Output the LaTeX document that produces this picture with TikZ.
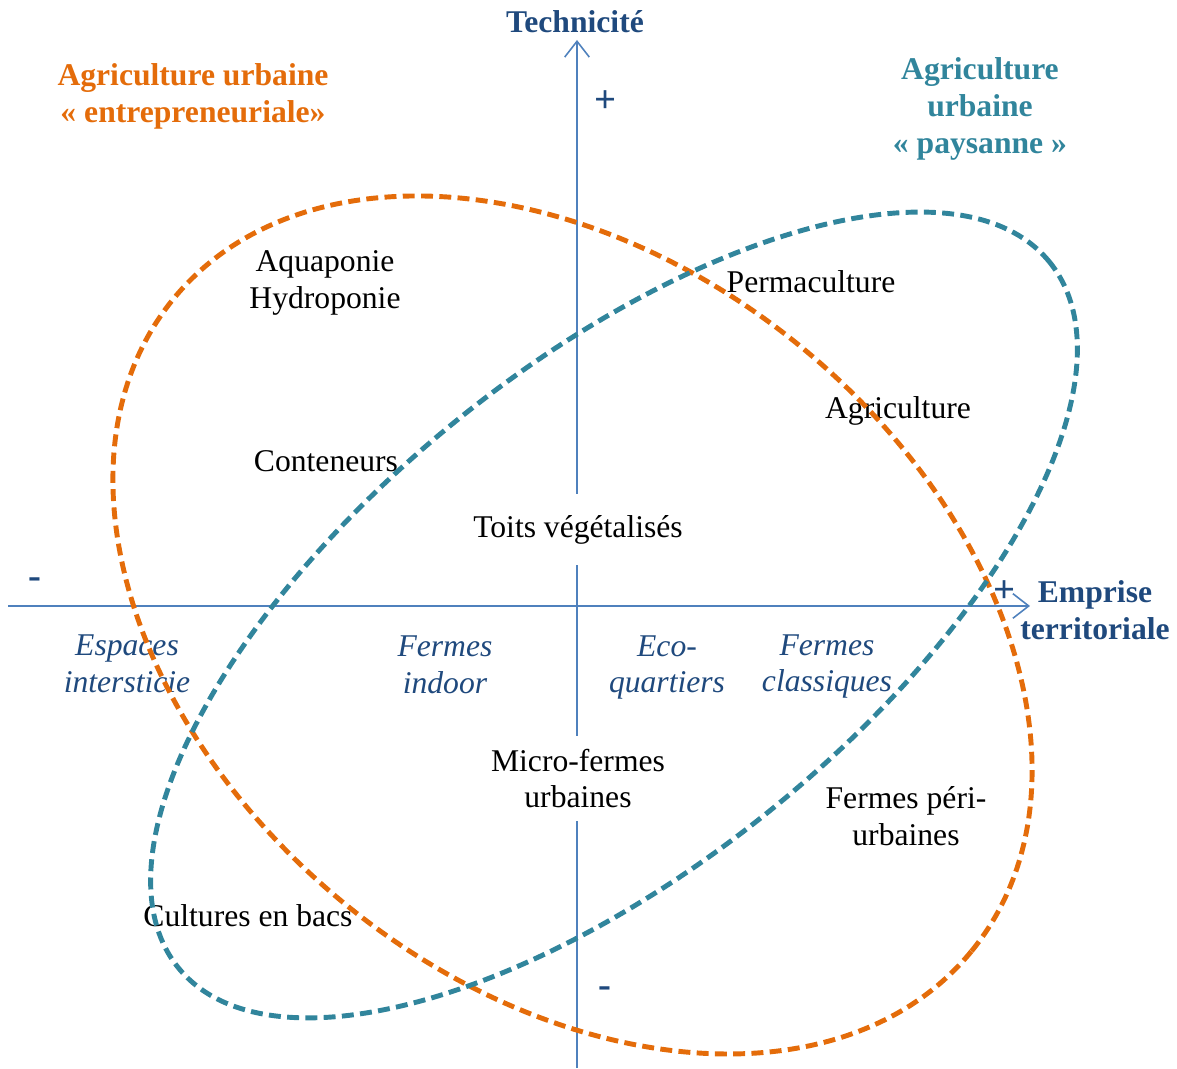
\documentclass[tikz,border=0pt]{standalone}
\usepackage{fontspec}
\setmainfont{Liberation Serif}
\usetikzlibrary{arrows.meta}
\definecolor{orangeAU}{HTML}{E46C0A}
\definecolor{tealAU}{HTML}{31859C}
\definecolor{navyAU}{HTML}{1F497D}
\definecolor{axisAU}{HTML}{4F81BD}
\begin{document}
\begin{tikzpicture}[font=\fontsize{9}{10.5}\selectfont,
    axe/.style={draw=axisAU, line width=0.45pt, -{Straight Barb[length=4.5pt,width=7pt]}},
    lbl/.style={align=center, inner sep=1pt},
    cat/.style={lbl, text=navyAU, font=\fontsize{9}{10.5}\selectfont\itshape},
    titre/.style={lbl, font=\fontsize{9}{10.5}\selectfont\bfseries},
    signe/.style={lbl, text=navyAU, font=\fontsize{11}{12}\selectfont\bfseries},
    ovale/.style={line width=1.4pt, dash pattern=on 3.4pt off 1.8pt}]
      \useasboundingbox (0,0) rectangle (11.77,10.69);

      % axes
      \coordinate (xmin) at (0.08,4.63);
      \coordinate (xmax) at (10.30,4.63);
      \coordinate (ymin) at (5.77,0.01);
      \coordinate (ymax) at (5.77,10.29);
      \draw[axe] (xmin) -- (xmax);
      \draw[axe] (ymin) -- (ymax);

      \node[titre, text=navyAU] (tech) at (5.75,10.47) {Technicité};
      \node[signe] (techplus) at (6.06,9.67) {+};
      \node[signe] (techmoins) at (6.05,0.77) {-};
      \node[signe] (empmoins) at (0.35,4.86) {-};
      \node[signe] (empplus) at (10.05,4.77) {+};
      \node[titre, text=navyAU] (emprise) at (10.95,4.585) {Emprise\\territoriale};

      \node[titre, text=orangeAU] (entre) at (1.93,9.73) {Agriculture urbaine\\« entrepreneuriale»};
      \node[titre, text=tealAU] (paysan) at (9.80,9.60) {Agriculture\\urbaine\\« paysanne »};

      % pratiques
      \node[lbl] (aqua) at (3.25,7.86) {Aquaponie\\Hydroponie};
      \node[lbl] (perma) at (8.11,7.875) {Permaculture};
      \node[lbl] (agri) at (8.98,6.58) {Agriculture};
      \node[lbl] (cont) at (3.26,6.08) {Conteneurs};
      \node[lbl, fill=white, inner xsep=3pt, inner ysep=6pt] (toits) at (5.78,5.39) {Toits végétalisés};
      \node[lbl, fill=white, inner xsep=3pt, inner ysep=3.5pt] (micro) at (5.78,2.905) {Micro-fermes\\urbaines};
      \node[lbl] (peri) at (9.06,2.53) {Fermes péri-\\urbaines};
      \node[lbl] (bacs) at (2.48,1.53) {Cultures en bacs};

      % espaces
      \begin{scope}
        \clip (0,3.64) rectangle (3,4.5);
        \node[cat] (espaces) at (1.27,3.87) {Espaces\\intersticie\\ls};
      \end{scope}
      \node[cat] (indoor) at (4.45,4.04) {Fermes\\indoor};
      \node[cat] (eco) at (6.67,4.015) {Eco-\\quartiers};
      \node[cat] (classiq) at (8.27,4.025) {Fermes\\classiques};

      % ensembles
      \draw[ovale, draw=orangeAU, shift={(5.725,4.44)}, rotate=-39.25] (0,0) ellipse (5.154 and 3.60);
      \draw[ovale, draw=tealAU, shift={(6.14,4.54)}, rotate=39] (0,0) ellipse (5.606 and 2.502);
    \end{tikzpicture}
\end{document}
